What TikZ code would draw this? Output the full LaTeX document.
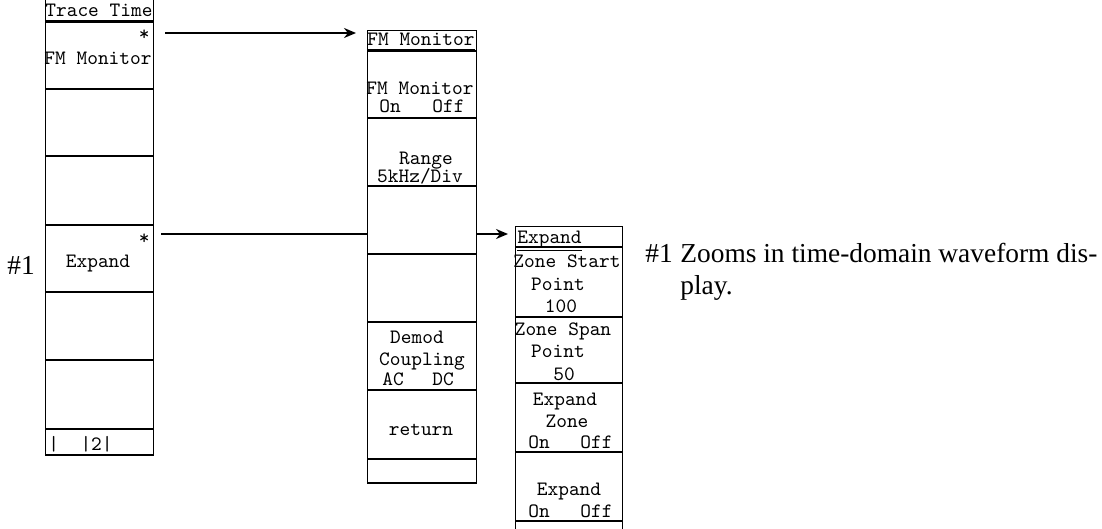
\documentclass[tikz,border=0pt]{standalone}
\usepackage{fontspec}
\setmainfont{Liberation Serif}
\usetikzlibrary{arrows.meta}
\begin{document}
\begin{tikzpicture}[x=0.5pt,y=-0.5pt,
  menu/.style={draw,line width=0.7pt,inner sep=0,anchor=north west},
  sep/.style={line width=1pt},
  mt/.style={font=\ttfamily\fontsize{10.2}{11}\selectfont,inner sep=0,anchor=base},
  mtl/.style={mt,anchor=base west},
  star/.style={mt,anchor=base east},
  note/.style={font=\fontsize{13.7}{16}\selectfont,inner sep=0,anchor=base west},
  conn/.style={line width=1pt},
  arr/.style={conn,-{Stealth[length=6pt,width=5pt]}}]
\useasboundingbox (0,0) rectangle (1102,529);

% ---------- left menu ----------
\node[menu,minimum width=54pt,minimum height=229pt] (m1) at (45,-3) {};
\foreach \y in {22,89,156,225,292,360,429,455} \draw[sep] (45,\y) -- (153,\y);
\node[mtl] (t1) at (45,17) {\underline{Trace Time}};
\node[star] (s1) at (150,41) {*};
\node[mt] (l1) at (98,65) {FM Monitor};
\node[star] (s2) at (150,244) {*};
\node[mt] (l4) at (98,268) {Expand};
\node[mtl] (l7) at (48,450) {|~~|2|};

% ---------- middle menu ----------
\node[menu,minimum width=54.5pt,minimum height=226.5pt] (m2) at (367,30) {};
\foreach \y in {51,118,186,254,322,390,459,483} \draw[sep] (367,\y) -- (476,\y);
\node[mtl] (t2) at (367,46) {\underline{FM Monitor}};
\node[mt] (r1a) at (420,95) {FM Monitor};
\node[mtl] (r1b) at (379,113) {On};
\node[mtl] (r1c) at (432,113) {Off};
\node[mt] (r2a) at (426,165) {Range};
\node[mt] (r2b) at (420,183) {5kHz/Div};
\node[mt] (r5a) at (417,343) {Demod};
\node[mt] (r5b) at (422,365) {Coupling};
\node[mtl] (r5c) at (382,385) {AC};
\node[mtl] (r5d) at (432,385) {DC};
\node[mt] (r6) at (421,435) {return};

% ---------- right menu ----------
\node[menu,minimum width=53.5pt,minimum height=154.5pt] (m3) at (515,226) {};
\foreach \y in {247,317,383,452,521} \draw[sep] (515,\y) -- (622,\y);
\node[mtl] (t3) at (517,243) {\underline{Expand}};
\node[mt] (q1a) at (567,268) {Zone Start};
\node[mt] (q1b) at (558,290) {Point};
\node[mt] (q1c) at (561,312) {100};
\node[mt] (q2a) at (563,335) {Zone Span};
\node[mt] (q2b) at (558,357) {Point};
\node[mt] (q2c) at (564,380) {50};
\node[mt] (q3a) at (565,405) {Expand};
\node[mt] (q3b) at (567,427) {Zone};
\node[mtl] (q3c) at (528,448) {On};
\node[mtl] (q3d) at (580,448) {Off};
\node[mt] (q4a) at (569,495) {Expand};
\node[mtl] (q4b) at (528,517) {On};
\node[mtl] (q4c) at (580,517) {Off};

% ---------- connectors ----------
\coordinate (a1) at (165,33);
\coordinate (a1e) at (356,33);
\draw[arr] (a1) -- (a1e);
\coordinate (a2) at (161,234);
\draw[conn] (a2) -- (a2 -| m2.west);
\draw[arr] (a2 -| m2.east) -- ([xshift=-3.5pt]a2 -| m3.west);

% ---------- notes ----------
\node[note] (n0) at (7,274) {\#1};
\node[note] (n1) at (645,263) {\#1};
\node[note] (n2) at (680,263) {Zooms in time-domain waveform dis-};
\node[note] (n3) at (680,294) {play.};
\end{tikzpicture}
\end{document}
